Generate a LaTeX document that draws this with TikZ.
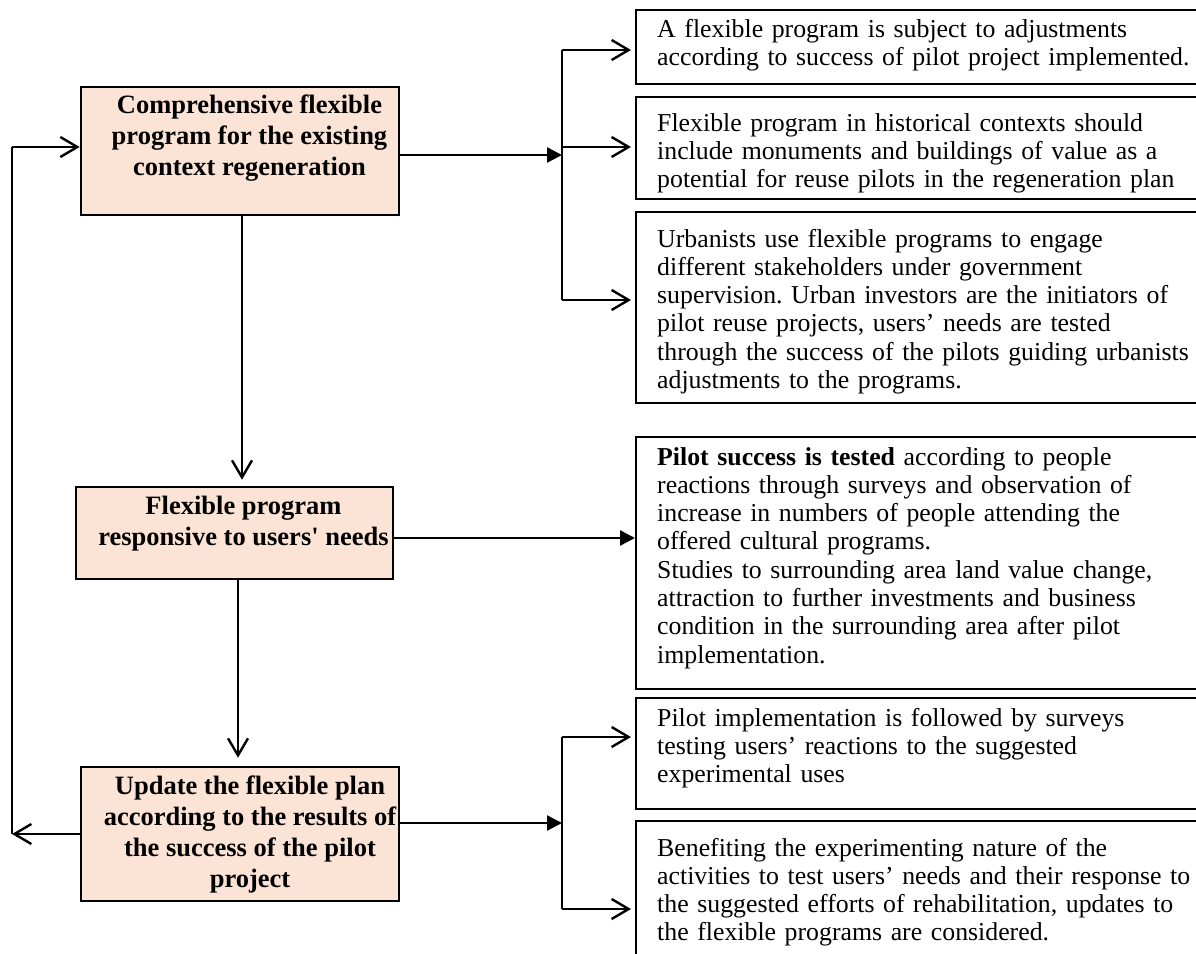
\documentclass[tikz,border=0pt]{standalone}
\usepackage{fontspec}
\setmainfont{Liberation Serif}
\usetikzlibrary{arrows.meta}
\definecolor{peach}{HTML}{FBE4D5}
\frenchspacing
\begin{document}
\begin{tikzpicture}[x=1pt,y=-1pt,
  lbox/.style={draw=black,line width=2.6pt,fill=peach,inner sep=0pt},
  ltext/.style={align=center,font=\fontsize{26.5}{31}\selectfont\bfseries,inner sep=0pt,anchor=north},
  rbox/.style={draw=black,line width=2pt,inner sep=0pt,anchor=north west},
  rtext/.style={align=left,text width=580pt,font=\fontsize{25.8}{28.3}\selectfont,inner xsep=22pt,inner ysep=0pt,anchor=north west},
  conn/.style={line width=2.4pt},
  openarr/.style={-{Straight Barb[length=17pt,width=20pt,line width=2.4pt]}},
  fillarr/.style={-{Triangle[length=15pt,width=15pt]}}]
\useasboundingbox (0,0) rectangle (1196,953);
\clip (0,0) rectangle (1196,953);

% left boxes
\node[lbox,minimum width=318pt,minimum height=128pt] (b1) at (240,151) {};
\node[ltext] (b1t) at (249.5,92) {\strut Comprehensive flexible\\ program for the existing\\ context regeneration};
\node[lbox,minimum width=317pt,minimum height=92pt] (b2) at (234.5,533) {};
\node[ltext] (b2t) at (243.5,493) {\strut Flexible program\\ responsive to users\textquotesingle\ needs};
\node[lbox,minimum width=318pt,minimum height=134pt] (b3) at (240,834) {};
\node[ltext] (b3t) at (250,773) {\strut Update the flexible plan\\ according to the results of\\ the success of the pilot\\ project};

% right boxes
\node[rbox,minimum width=590pt,minimum height=74pt] (r1) at (635,9) {};
\node[rtext] (r1t) at (635,17) {\strut A flexible program is subject to adjustments\\ according to success of pilot project implemented.};
\node[rbox,minimum width=590pt,minimum height=102pt] (r2) at (635,96) {};
\node[rtext] (r2t) at (635,111) {\strut Flexible program in historical contexts should\\ include monuments and buildings of value as a\\ potential for reuse pilots in the regeneration plan};
\node[rbox,minimum width=590pt,minimum height=191pt] (r3) at (635,211) {};
\node[rtext] (r3t) at (635,227) {\strut Urbanists use flexible programs to engage\\ different stakeholders under government\\ supervision. Urban investors are the initiators of\\ pilot reuse projects, users’ needs are tested\\ through the success of the pilots guiding urbanists\\ adjustments to the programs.};
\node[rbox,minimum width=590pt,minimum height=252pt] (r4) at (635,436) {};
\node[rtext] (r4t) at (635,445) {\strut\textbf{Pilot success is tested} according to people\\ reactions through surveys and observation of\\ increase in numbers of people attending the\\ offered cultural programs.\\ Studies to surrounding area land value change,\\ attraction to further investments and business\\ condition in the surrounding area after pilot\\ implementation.};
\node[rbox,minimum width=590pt,minimum height=111pt] (r5) at (635,697) {};
\node[rtext] (r5t) at (635,706) {\strut Pilot implementation is followed by surveys\\ testing users’ reactions to the suggested\\ experimental uses};
\node[rbox,minimum width=590pt,minimum height=160pt] (r6) at (635,820) {};
\node[rtext] (r6t) at (635,836) {\strut Benefiting the experimenting nature of the\\ activities to test users’ needs and their response to\\ the suggested efforts of rehabilitation, updates to\\ the flexible programs are considered.};

% junctions
\coordinate (j1) at (562,155);
\coordinate (j1a) at (562,50);
\coordinate (j1b) at (562,147);
\coordinate (j1c) at (562,300);
\coordinate (j2) at (562,823);
\coordinate (j2a) at (562,737);
\coordinate (j2c) at (562,909);
\coordinate (lb) at (12,834);
\coordinate (lt) at (12,147);

% top fan
\draw[conn,fillarr] (j1 -| b1.east) -- (j1);
\draw[conn] (j1a) -- (j1c);
\draw[conn,openarr,shorten >=4pt] (j1a) -- (j1a -| r1.west);
\draw[conn,openarr,shorten >=4pt] (j1b) -- (j1b -| r2.west);
\draw[conn,openarr,shorten >=4pt] (j1c) -- (j1c -| r3.west);

% middle
\draw[conn,fillarr] ([yshift=-5pt]b2.east) -- ([yshift=-5pt]b2.east -| r4.west);

% bottom fan
\draw[conn,fillarr] (j2 -| b3.east) -- (j2);
\draw[conn] (j2a) -- (j2c);
\draw[conn,openarr,shorten >=4pt] (j2a) -- (j2a -| r5.west);
\draw[conn,openarr,shorten >=4pt] (j2c) -- (j2c -| r6.west);

% vertical flow
\draw[conn,openarr,shorten >=6pt] ([xshift=2pt]b1.south) -- ([xshift=2pt]b1.south |- b2.north);
\draw[conn,openarr,shorten >=8pt] ([xshift=3.5pt]b2.south) -- ([xshift=3.5pt]b2.south |- b3.north);

% feedback loop
\draw[conn,openarr] (b3.west) -- (lb);
\draw[conn] (lb) -- (lt);
\draw[conn,openarr] (lt) -- (lt -| b1.west);
\end{tikzpicture}
\end{document}
